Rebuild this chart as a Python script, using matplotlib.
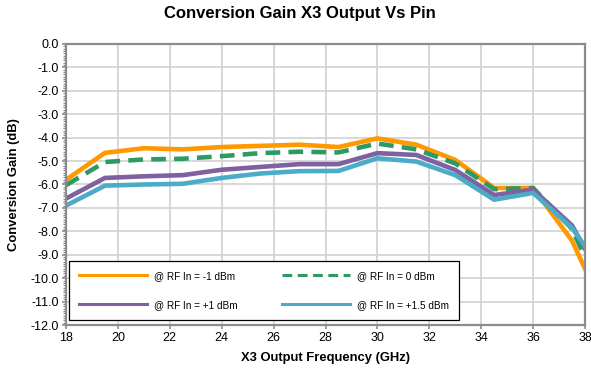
import matplotlib
matplotlib.use("Agg")
import matplotlib.pyplot as plt
from matplotlib.ticker import MultipleLocator

plt.rcParams['font.family'] = ['Liberation Sans', 'DejaVu Sans']

# output frequency points (GHz)
freq = [18, 19.5, 21, 22.5, 24, 25.5, 27, 28.5, 30, 31.5, 33, 34.5, 36, 37.5, 38]

# conversion gain (dB) for each RF input power
gain_m1 = [-5.8, -4.65, -4.45, -4.5, -4.4, -4.35, -4.3, -4.4, -4.03, -4.3, -4.95, -6.15, -6.15, -8.4, -9.6]
gain_0 = [-6.03, -5.04, -4.93, -4.9, -4.79, -4.66, -4.6, -4.63, -4.25, -4.5, -5.1, -6.2, -6.15, -7.9, -9.1]
gain_p1 = [-6.6, -5.72, -5.65, -5.6, -5.37, -5.25, -5.13, -5.13, -4.66, -4.74, -5.38, -6.45, -6.22, -7.75, -8.75]
gain_p15 = [-6.9, -6.05, -6.0, -5.97, -5.72, -5.53, -5.43, -5.42, -4.88, -5.02, -5.6, -6.65, -6.36, -7.85, -8.65]

labels = ['@ RF In = -1 dBm', '@ RF In = 0 dBm', '@ RF In = +1 dBm', '@ RF In = +1.5 dBm']

fig = plt.figure(figsize=(5.91, 3.77), dpi=100)
ax = fig.add_axes([66/591, 1-325/377, 519/591, 281/377])

lw = 3.3
l1, = ax.plot(freq, gain_m1, color='#ff9900', lw=lw, label=labels[0])
l2, = ax.plot(freq, gain_0, color='#2e9a63', lw=lw, ls=(0, (3.2, 1.8)), label=labels[1])
l3, = ax.plot(freq, gain_p1, color='#7f60a0', lw=lw, label=labels[2])
l4, = ax.plot(freq, gain_p15, color='#4aacc6', lw=lw, label=labels[3])

ax.set_xlim(18, 38)
ax.set_ylim(-12, 0)
ax.xaxis.set_major_locator(MultipleLocator(2))
ax.yaxis.set_major_locator(MultipleLocator(1))
ax.yaxis.set_minor_locator(MultipleLocator(0.1))
ax.yaxis.set_major_formatter(matplotlib.ticker.FormatStrFormatter('%.1f'))
ax.grid(True, which='major', color='#d4d4d4', lw=1.3)
ax.set_axisbelow(True)
for s in ax.spines.values():
    s.set_color('#8c8c8c')
    s.set_linewidth(1.6)
ax.tick_params(axis='both', which='major', labelsize=9, length=3, width=1.2, color='#8c8c8c', pad=2)
ax.tick_params(axis='y', which='minor', length=2, width=0.8, color='#8c8c8c')

ax.set_xlabel('X3 Output Frequency (GHz)', fontsize=9.4, fontweight='bold', labelpad=6)
ax.set_ylabel('Conversion Gain (dB)', fontsize=9.4, fontweight='bold', labelpad=8)
fig.text(0.508, 0.965, 'Conversion Gain X3 Output Vs Pin', fontsize=12, fontweight='bold',
         ha='center', va='center')

# legend reads row by row, so hand the entries over column-first
leg = ax.legend([l1, l3, l2, l4], [labels[0], labels[2], labels[1], labels[3]],
                loc='lower left', bbox_to_anchor=(0.006, 0.018, 0.751, 0.21), mode='expand',
                ncol=2, fontsize=7.2, handlelength=6.8, handletextpad=0.7, labelspacing=1.9,
                borderaxespad=0, fancybox=False, framealpha=1, borderpad=1.0)
leg.get_frame().set_edgecolor('black')
leg.get_frame().set_linewidth(0.9)
for line in leg.get_lines():
    line.set_linewidth(2.2)

fig.savefig('out.png', dpi=100)
